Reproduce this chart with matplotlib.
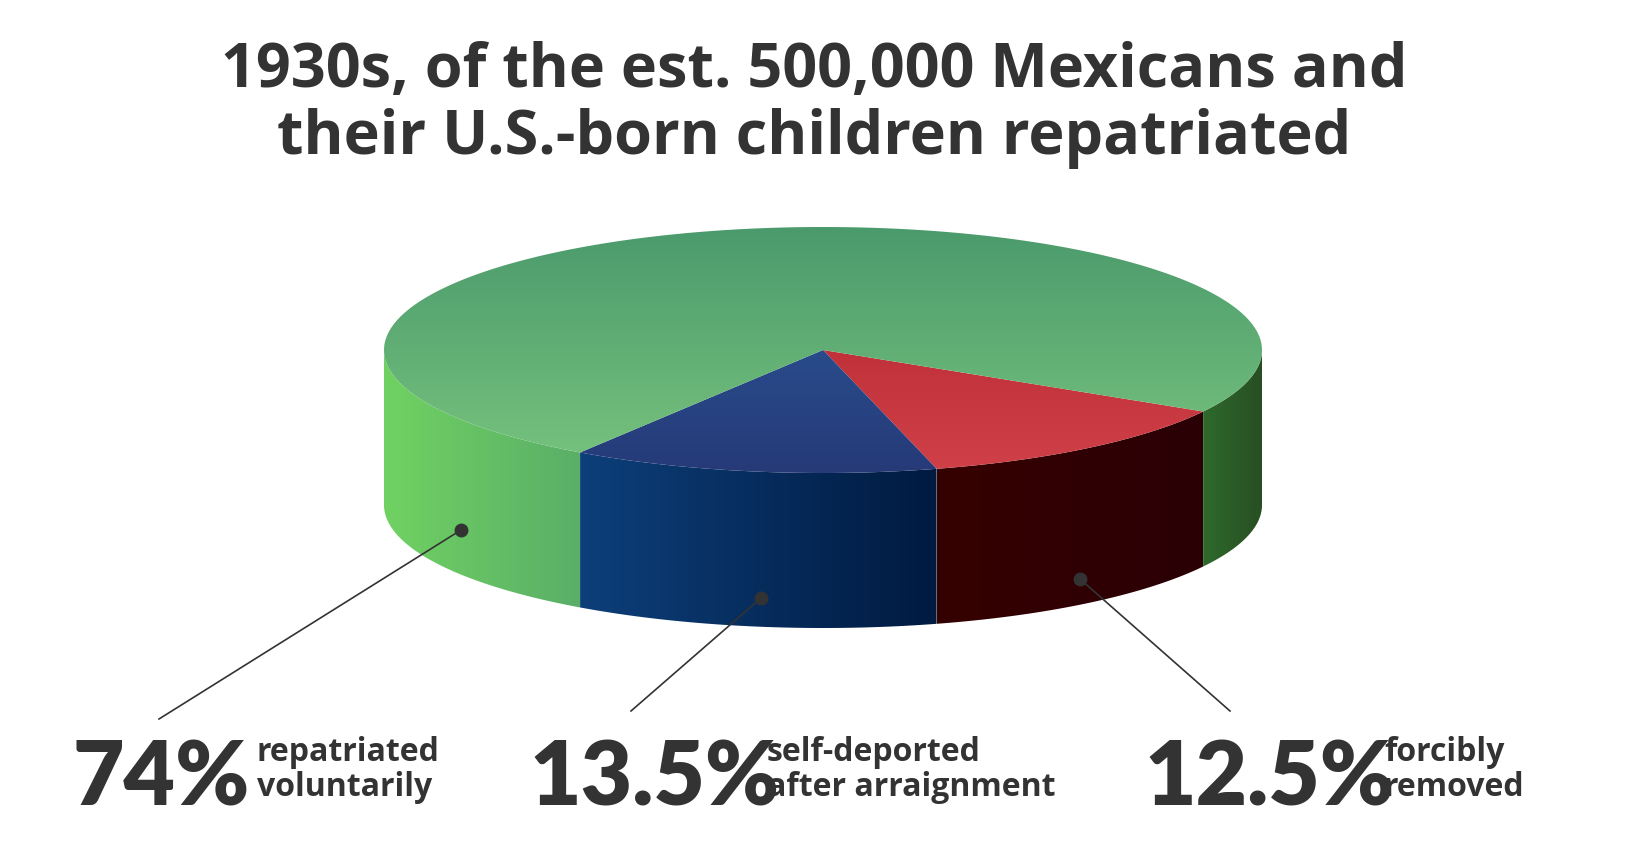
import numpy as np
import matplotlib
matplotlib.use("Agg")
import matplotlib.pyplot as plt
from matplotlib.patches import Polygon
from matplotlib.colors import to_rgb

title = "1930s, of the est. 500,000 Mexicans and\ntheir U.S.-born children repatriated"
categories = ["repatriated\nvoluntarily", "self-deported\nafter arraignment", "forcibly\nremoved"]
values = [74, 13.5, 12.5]
value_labels = ["74%", "13.5%", "12.5%"]

W, H = 1634, 853
fig = plt.figure(figsize=(W/100, H/100), dpi=100)
ax = fig.add_axes([0, 0, 1, 1])
ax.set_xlim(0, W); ax.set_ylim(H, 0); ax.axis("off")

cx, cy, rx, ry, depth = 823, 351, 439, 123, 155
start = 30.0
order = [2, 1, 0]
top_cols = {0: ("#4b9a6c", "#78c47e"), 1: ("#2c5c9c", "#263a78"), 2: ("#b0222c", "#d04048")}
side_cols = {0: [("#70d262", "#5aae68"), ("#2e6a2c", "#284e22")],
             1: [("#0d3f7a", "#001a40")], 2: [("#360000", "#2a0006")]}

def pt(t, dz=0):
    r = np.radians(t)
    return cx + rx*np.cos(r), cy + ry*np.sin(r) + dz

def lerp(c1, c2, f):
    a, b = np.array(to_rgb(c1)), np.array(to_rgb(c2))
    return a + (b - a)*f

def hgrad(c1, c2, extent, clip, z=1):
    g = np.linspace(0, 1, 256)
    img = np.array([lerp(c1, c2, f) for f in g])[None, :, :]
    im = ax.imshow(img, extent=extent, aspect="auto", zorder=z, interpolation="bilinear")
    im.set_clip_path(clip)

spans = {}
a = start
for i in order:
    spans[i] = (a, a + values[i]*3.6)
    a += values[i]*3.6

# side walls (front half: param angle 0..180)
for i in order:
    a0, a1 = spans[i]
    parts = []
    for off in (0, 360, -360):
        lo, hi = max(a0 + off, 0), min(a1 + off, 180)
        if hi > lo:
            parts.append((lo, hi))
    parts.sort(key=lambda p: -p[0])  # left part first
    for j, (lo, hi) in enumerate(parts):
        ts = np.linspace(lo, hi, 200)
        topc = [pt(t) for t in ts]
        bot = [pt(t, depth) for t in ts[::-1]]
        poly = Polygon(topc + bot, closed=True, facecolor="none", edgecolor="none")
        ax.add_patch(poly)
        xs = [p[0] for p in topc]
        c1, c2 = side_cols[i][min(j, len(side_cols[i])-1)]
        hgrad(c1, c2, (min(xs), max(xs) + 1, cy + depth + ry + 2, cy - 2), poly)

# top faces with vertical gradient
for i in order:
    a0, a1 = spans[i]
    ts = np.linspace(a0, a1, 300)
    poly = [(cx, cy)] + [pt(t) for t in ts]
    p = Polygon(poly, closed=True, facecolor="none", edgecolor="none")
    ax.add_patch(p)
    c1, c2 = top_cols[i]
    img = np.array([lerp(c1, c2, g) for g in np.linspace(0, 1, 256)])[:, None, :]
    im = ax.imshow(img, extent=(cx - rx, cx + rx, cy + ry, cy - ry), aspect="auto", zorder=2,
                   interpolation="bilinear")
    im.set_clip_path(p)

ax.text(W/2 - 3, 105, title, ha="center", va="center", fontsize=44, fontweight="bold",
        color="#333333", family="Open Sans", linespacing=1.12)

dots = [(461, 531), (761, 599), (1080, 580)]
ends = [(159, 720), (631, 712), (1230, 712)]
big_x = [73, 529, 1144]
small_x = [257, 767, 1384]
for i in range(3):
    ax.plot([dots[i][0], ends[i][0]], [dots[i][1], ends[i][1]], color="#333333", lw=1.2, zorder=5)
    ax.plot(*dots[i], "o", color="#333333", ms=9, zorder=6)
    ax.text(big_x[i], 806, value_labels[i], fontsize=64, fontweight="heavy", family="Lato",
            color="#333333", ha="left", va="baseline")
    ax.text(small_x[i], 770, categories[i], fontsize=23, fontweight="bold", family="Open Sans",
            color="#333333", ha="left", va="center", linespacing=1.05)

fig.savefig("out.png", dpi=100)
